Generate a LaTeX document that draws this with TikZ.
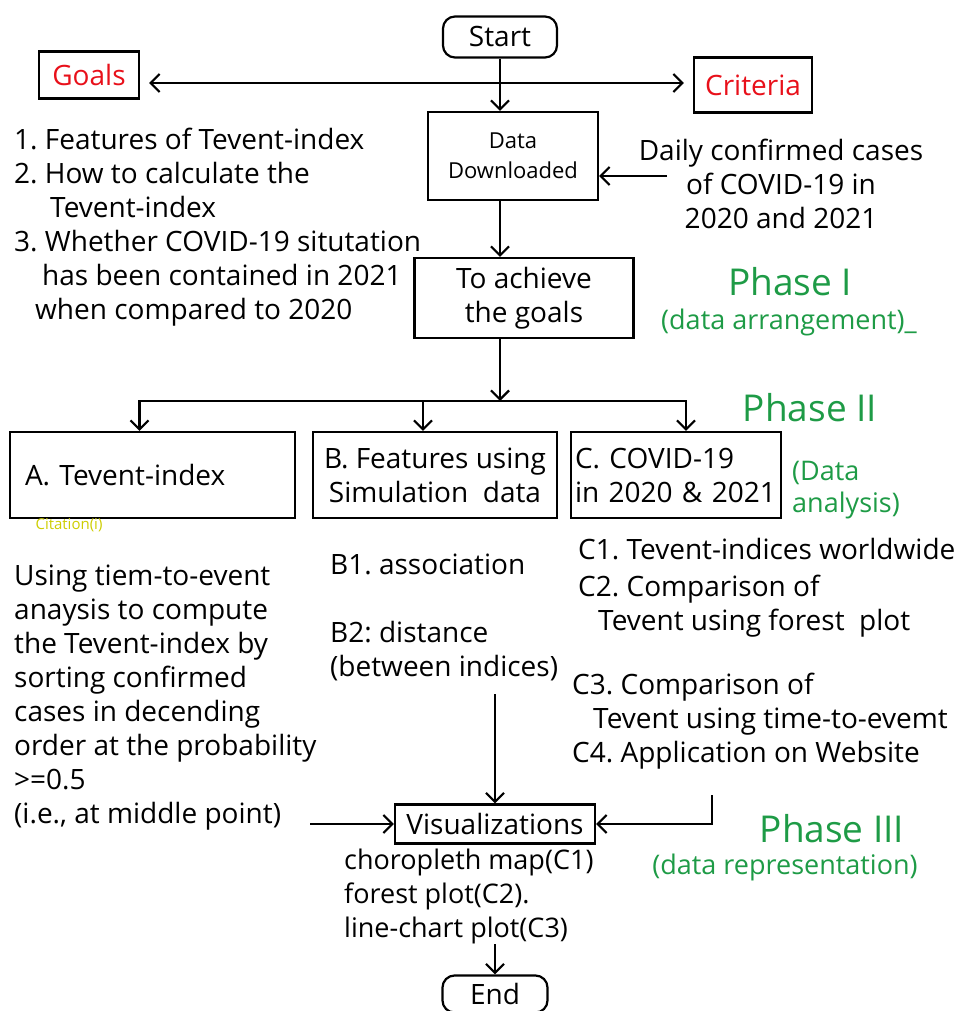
\documentclass[tikz,border=0pt]{standalone}
\usepackage{fontspec}
\setmainfont{Open Sans}
\usetikzlibrary{arrows.meta, positioning}
\definecolor{goalred}{RGB}{232,16,26}
\definecolor{phasegreen}{RGB}{30,155,70}
\definecolor{citeyellow}{RGB}{205,205,0}
\newcommand{\bodyfont}{\fontsize{28}{34}\selectfont}
\newcommand{\smallboxfont}{\fontsize{22}{30}\selectfont}
\newcommand{\phasefont}{\fontsize{37}{44}\selectfont}
\newcommand{\phasesubfont}{\fontsize{27}{32}\selectfont}
\frenchspacing
\tikzset{
  flowbox/.style={
    rectangle, draw=black, line width=2.2pt,
    align=center, font=\bodyfont, inner sep=4pt
  },
  termbox/.style={flowbox, rounded corners=12pt},
  flowtext/.style={align=left, font=\bodyfont, inner sep=0pt, anchor=north west},
  phasetitle/.style={text=phasegreen, font=\phasefont, inner sep=0pt},
  phasenote/.style={text=phasegreen, font=\phasesubfont, inner sep=0pt},
  flowarrow/.style={-{Straight Barb[length=9pt,width=18pt]}, line width=2.2pt},
}
\begin{document}
\begin{tikzpicture}[x=1pt, y=-1pt]
  \useasboundingbox (0,0) rectangle (974,1011);
  % boxes
  \node[termbox, minimum width=114pt, minimum height=41pt](start)at(500,37){Start};
  \node[flowbox, minimum width=100pt, minimum height=47pt, text=goalred](goals)at(89,75){Goals};
  \node[flowbox, minimum width=118pt, minimum height=55pt, text=goalred](criteria)at(753,85){Criteria};
  \node[flowbox, minimum width=170pt, minimum height=88pt, font=\smallboxfont](data)at(513,156){Data\\Downloaded};
  \node[flowbox, minimum width=219pt, minimum height=80pt](achieve)at(524,298){To achieve\\the goals};
  \node[flowbox, minimum height=86pt, text width=255pt, inner xsep=15pt, align=left](boxA)at(152.5,475){A. Tevent-index};
  \node[flowbox, minimum width=244pt, minimum height=86pt](boxB)at(435,475){B. Features using\\Simulation\ \ data};
  \node[flowbox, minimum height=86pt, text width=202pt, align=left](boxC)at(676,475){C. COVID-19\\in 2020 \& 2021};
  \node[flowbox, minimum width=200pt, minimum height=39pt, inner sep=2pt](visual)at(495,824){Visualizations};
  \node[termbox, minimum width=105pt, minimum height=37pt](endnode)at(495,994){End};
  % texts
  \node[flowtext](goallist)at(14,128){1. Features of Tevent-index\\
    2. How to calculate the\\
    \hspace*{36pt}Tevent-index\\
    3. Whether COVID-19 situtation\\
    \hspace*{28pt}has been contained in 2021\\
    \hspace*{21pt}when compared to 2020};
  \node[flowtext, anchor=north, align=center](critnote)at(781,139){Daily confirmed cases\\of COVID-19 in\\2020 and 2021};
  \node[phasetitle](phaseone)at(790,282){Phase I};
  \node[phasenote](phaseonenote)at(789,322){(data arrangement)\_};
  \node[phasetitle](phasetwo)at(810,408){Phase II};
  \node[phasenote, align=left, anchor=north west](datanote)at(792,461){(Data\\analysis)};
  \node[inner sep=0pt, text=citeyellow, font=\fontsize{15}{17}\selectfont](citation)at(69,525){Citation(i)};
  \node[flowtext](descA)at(14,565){Using tiem-to-event\\
    anaysis to compute\\
    the Tevent-index by\\
    sorting confirmed\\
    cases in decending\\
    order at the probability\\
    >=0.5\\
    (i.e., at middle point)};
  \node[flowtext](bone)at(330,554){B1. association};
  \node[flowtext](btwo)at(330,621){B2: distance\\(between indices)};
  \node[flowtext](cupper)at(578,538){C1. Tevent-indices worldwide\\[3pt]
    C2. Comparison of\\
    \hspace*{20pt}Tevent using forest\ \ plot};
  \node[flowtext](clower)at(572,673){C3. Comparison of\\
    \hspace*{21pt}Tevent using time-to-evemt\\
    C4. Application on Website};
  \node[flowtext, font=\fontsize{27}{34}\selectfont](vislist)at(344,849){choropleth map(C1)\\
    forest plot(C2).\\
    line-chart plot(C3)};
  \node[phasetitle](phasethree)at(832,829){Phase III};
  \node[phasenote](phasethreenote)at(785,867){(data representation)};
  % connectors
  \coordinate(hub)at(500,83);
  \coordinate(critin)at(667,176);
  \coordinate(fork)at(500,401);
  \coordinate(descout)at(310,824);
  \coordinate(cout)at(712,795);
  \draw[flowarrow](start.south)--(start.south |- data.north);
  \draw[flowarrow, shorten >=9pt](hub)--(hub -| goals.east);
  \draw[flowarrow, shorten >=9pt](hub)--(hub -| criteria.west);
  \draw[flowarrow](critin)--(critin -| data.east);
  \draw[flowarrow](start |- data.south)--(start |- achieve.north);
  \draw[flowarrow](start |- achieve.south)--(fork);
  \draw[flowarrow](fork)-|([xshift=-13pt]boxA.north);
  \draw[flowarrow](fork)-|([xshift=-12pt]boxB.north);
  \draw[flowarrow](fork)-|([xshift=10pt]boxC.north);
  \draw[flowarrow]([yshift=-13pt]btwo.south -| visual.north)--(visual.north);
  \draw[flowarrow](descout)--(visual.west);
  \draw[flowarrow](cout)|-(visual.east);
  \draw[flowarrow](vislist.south -| endnode.north)--(endnode.north);
\end{tikzpicture}
\end{document}
